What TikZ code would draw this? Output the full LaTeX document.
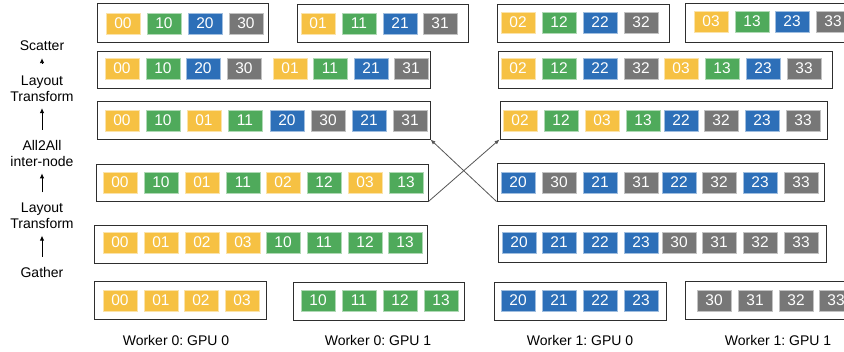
\documentclass[tikz,border=0pt]{standalone}
\usepackage{fontspec}
\setmainfont{Liberation Sans}
\usetikzlibrary{arrows.meta}
\definecolor{col0}{HTML}{F6C143}
\definecolor{col1}{HTML}{4FAA5B}
\definecolor{col2}{HTML}{2D6FB8}
\definecolor{col3}{HTML}{777777}
\definecolor{boxline}{HTML}{2E2E2E}
\definecolor{crossline}{HTML}{555555}
% #1 name, #2 left, #3 top, #4 right, #5 bottom, #6 cell top, #7 list x/label/colour
\newcommand\grp[7]{%
  \node[grpbox, minimum width={#4-#2}, minimum height={#5-#3}] (#1) at ({(#2+#4)/2},{(#3+#5)/2}) {};
  \foreach \x/\l/\c [count=\i] in {#7}
    \node[cell, fill=col\c, draw=col\c!45!white] (#1-\i) at ({\x+17},{#6+10.5}) {\l};
}
\begin{document}
\frenchspacing
\begin{tikzpicture}[x=1pt,y=-1pt,
  grpbox/.style={draw=boxline, line width=0.95pt, inner sep=0pt},
  cell/.style={inner sep=0pt, minimum width=34pt, minimum height=21pt, line width=0.7pt,
    text=white, font=\fontsize{15.5}{17}\selectfont},
  lab/.style={inner sep=0pt, align=center, font=\fontsize{14}{16}\selectfont\frenchspacing},
  steparrow/.style={-{Latex[length=5pt,width=4.5pt]}, line width=0.9pt, black},
  crossarrow/.style={-{Latex[length=5pt,width=4pt]}, line width=0.8pt, crossline}]
\useasboundingbox (0,0) rectangle (844,351);
\clip (0,0) rectangle (844,351);
\fill[white] (0,0) rectangle (844,351);

% row 1
\grp{r1a}{97}{3}{268}{42}{13}{106/00/0,147/10/1,188/20/2,229/30/3}
\grp{r1b}{297}{4}{468}{42}{13}{301/01/0,342/11/1,383/21/2,423/31/3}
\grp{r1c}{497}{4}{669}{42}{12}{501/02/0,542/12/1,583/22/2,624/32/3}
\grp{r1d}{685}{3}{870}{42}{11}{694/03/0,735/13/1,775/23/2,816/33/3}
% row 2
\grp{r2a}{97}{51}{430}{88}{58}{105/00/0,146/10/1,186/20/2,227/30/3,273/01/0,313/11/1,354/21/2,394/31/3}
\grp{r2b}{498}{51}{832}{88}{58}{501/02/0,542/12/1,583/22/2,624/32/3,664/03/0,705/13/1,746/23/2,787/33/3}
% row 3
\grp{r3a}{97}{101}{430}{139}{110}{105/00/0,146/10/1,187/01/0,228/11/1,270/20/2,311/30/3,352/21/2,393/31/3}
\grp{r3b}{500}{101}{827}{139}{110}{503/02/0,544/12/1,585/03/0,626/13/1,664/22/2,704/32/3,745/23/2,786/33/3}
% row 4
\grp{r4a}{96}{164}{428}{201}{172}{103/00/0,144/10/1,185/01/0,226/11/1,266/02/0,307/12/1,348/03/0,389/13/1}
\grp{r4b}{497}{163}{824}{201}{172}{501/20/2,542/30/3,583/21/2,624/31/3,662/22/2,702/32/3,743/23/2,784/33/3}
% row 5
\grp{r5a}{94}{225}{427}{263}{232}{103/00/0,144/01/0,185/02/0,226/03/0,266/10/1,307/11/1,348/12/1,388/13/1}
\grp{r5b}{498}{225}{826}{262}{232}{502/20/2,542/21/2,583/22/2,624/23/2,662/30/3,702/31/3,743/32/3,784/33/3}
% row 6
\grp{r6a}{94}{281}{266}{319}{290}{103/00/0,144/01/0,184/02/0,225/03/0}
\grp{r6b}{293}{282}{464}{320}{290}{301/10/1,342/11/1,383/12/1,424/13/1}
\grp{r6c}{494}{282}{666}{320}{290}{501/20/2,542/21/2,583/22/2,624/23/2}
\grp{r6d}{685}{281}{870}{319}{290}{697/30/3,738/31/3,779/32/3,819/33/3}

% cross arrows
\draw[crossarrow] (r4a.south east) -- (r3b.south west);
\draw[crossarrow] (r4b.south west) -- (r3a.south east);

% step labels
\node[lab] (scat) at (42,46) {Scatter};
\node[lab] (lt1) at (42,89) {Layout\\Transform};
\node[lab] (a2a) at (42,153) {All2All\\inter-node};
\node[lab] (lt2) at (42,215.5) {Layout\\Transform};
\node[lab] (gath) at (42,272) {Gather};
\draw[steparrow, shorten <=13pt, shorten >=7pt] (lt1.north) -- (scat.south);
\draw[steparrow, shorten <=10pt, shorten >=6pt] (a2a.north) -- (lt1.south);
\draw[steparrow, shorten <=10pt, shorten >=7pt] (lt2.north) -- (a2a.south);
\draw[steparrow, shorten <=10pt, shorten >=7pt] (gath.north) -- (lt2.south);

% worker labels
\node[lab] (w00) at (176,340) {Worker 0: GPU 0};
\node[lab] (w01) at (378,340) {Worker 0: GPU 1};
\node[lab] (w10) at (580,340) {Worker 1: GPU 0};
\node[lab] (w11) at (778,340) {Worker 1: GPU 1};
\end{tikzpicture}
\end{document}
